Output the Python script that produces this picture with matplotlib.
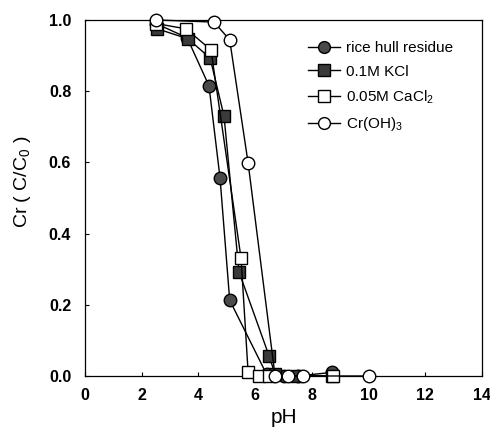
import matplotlib
matplotlib.use("Agg")
import matplotlib.pyplot as plt

plt.rcParams['font.family'] = ['Liberation Sans', 'DejaVu Sans']
plt.rcParams['mathtext.fontset'] = 'custom'
plt.rcParams['mathtext.rm'] = 'Liberation Sans'
plt.rcParams['mathtext.default'] = 'regular'

# Cr fraction remaining in solution vs pH
ph_rice = [2.5, 3.6, 4.37, 4.76, 5.1, 6.4, 7.0, 7.5, 8.7]
cr_rice = [0.99, 0.95, 0.815, 0.556, 0.213, 0.005, 0.0, 0.0, 0.01]

ph_kcl = [2.55, 3.63, 4.41, 4.9, 5.43, 6.49, 6.7, 7.45, 8.7]
cr_kcl = [0.975, 0.947, 0.893, 0.73, 0.292, 0.056, 0.005, 0.0, 0.0]

ph_cacl = [2.5, 3.56, 4.44, 5.5, 5.75, 6.13, 6.5, 8.75]
cr_cacl = [0.99, 0.975, 0.916, 0.331, 0.01, 0.0, 0.0, 0.0]

ph_croh = [2.5, 4.55, 5.1, 5.75, 6.7, 7.15, 7.7, 10.0]
cr_croh = [1.0, 0.994, 0.944, 0.598, 0.0, 0.0, 0.0, 0.0]

fig = plt.figure(figsize=(4.9, 4.3), dpi=100)
ax = fig.add_axes([0.1735, 0.1256, 0.8105, 0.828])

kw = dict(color='black', linewidth=1.0, markersize=9, markeredgecolor='black',
          markeredgewidth=1.0, clip_on=False)
ax.plot(ph_rice, cr_rice, marker='o', markerfacecolor='#4a4a4a',
        label='rice hull residue', zorder=3, **kw)
ax.plot(ph_kcl, cr_kcl, marker='s', markerfacecolor='#3a3a3a',
        label='0.1M KCl', zorder=3, **kw)
ax.plot(ph_cacl, cr_cacl, marker='s', markerfacecolor='white',
        label='0.05M CaCl$_2$', zorder=4, **kw)
ax.plot(ph_croh, cr_croh, marker='o', markerfacecolor='white',
        label='Cr(OH)$_3$', zorder=5, **kw)

ax.set_xlim(0, 14)
ax.set_ylim(0, 1.0)
ax.set_xticks(range(0, 15, 2))
ax.set_yticks([0.0, 0.2, 0.4, 0.6, 0.8, 1.0])
ax.set_yticklabels(['0.0', '0.2', '0.4', '0.6', '0.8', '1.0'])
ax.tick_params(direction='in', length=3, width=0.8, labelsize=11.5)
ax.tick_params(axis='y', pad=10)
ax.tick_params(axis='x', pad=9)
for lab in ax.get_xticklabels() + ax.get_yticklabels():
    lab.set_fontweight('bold')
for sp in ax.spines.values():
    sp.set_linewidth(0.9)

ax.set_xlabel('pH', fontsize=15, labelpad=3)
ax.set_ylabel('Cr ( C/C$_0$ )', fontsize=14)
ax.yaxis.set_label_coords(-0.132, 0.545)

leg = ax.legend(loc='upper left', bbox_to_anchor=(0.562, 0.94), frameon=False,
                fontsize=11, handlelength=2.1, handletextpad=0.35,
                labelspacing=0.62, borderpad=0, borderaxespad=0)
for h in leg.legend_handles:
    h.set_markersize(8.5)

fig.savefig('out.png', dpi=100)
